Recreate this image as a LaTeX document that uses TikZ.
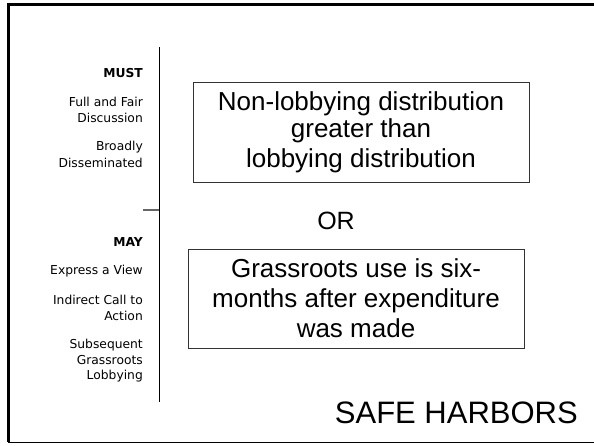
\documentclass[tikz,border=0pt]{standalone}
\usepackage{fontspec}
\setmainfont{Liberation Sans}
\newfontfamily\sidefont{DejaVu Sans}
\begin{document}
\begin{tikzpicture}[x=1pt,y=-1pt,
  side/.style={anchor=base east,inner sep=0pt,font=\sidefont\fontsize{12.3}{14}\selectfont},
  sidehead/.style={side,font=\sidefont\bfseries\fontsize{12.3}{14}\selectfont},
  harbor/.style={draw=black!80,line width=0.9pt,align=center,inner sep=0pt,
    minimum width=336pt,font=\fontsize{26}{30}\selectfont},
  bigtext/.style={inner sep=0pt,font=\fontsize{25}{30}\selectfont}]
\useasboundingbox (0,0) rectangle (594,445);
% frame
\draw[line width=3pt] (8,4) -- (594,4);
\draw[line width=3pt] (8,2.5) -- (8,442);
\draw[line width=1pt] (8,442.5) -- (594,442.5);
% divider
\coordinate (vtop) at (159,47);
\coordinate (vbot) at (159,402);
\coordinate (tickl) at (143,210);
\coordinate (tickr) at (159,210);
\draw[line width=1pt] (vtop) -- (vbot);
\draw[line width=1.3pt,black!60] (tickl) -- (tickr);
% left texts
\node[sidehead] (must) at (143,77) {MUST};
\node[side] (full1) at (143,106) {Full and Fair};
\node[side] (full2) at (143,122) {Discussion};
\node[side] (broad1) at (143,150) {Broadly};
\node[side] (broad2) at (143,167) {Disseminated};
\node[sidehead] (may) at (143,246) {MAY};
\node[side] (expr) at (143,274) {Express a View};
\node[side] (ind1) at (143,304) {Indirect Call to};
\node[side] (ind2) at (143,320) {Action};
\node[side] (sub1) at (143,348) {Subsequent};
\node[side] (sub2) at (143,364) {Grassroots};
\node[side] (sub3) at (143,379) {Lobbying};
% boxes
\node[harbor,minimum height=100pt] (box1) at (361,132)
  {\raisebox{-3pt}{Non-lobbying distribution}\\greater than\\lobbying distribution};
\node[bigtext,anchor=base] (or) at (336,229) {OR};
\node[harbor,minimum height=99pt] (box2) at (356,298.5)
  {Grassroots use is six-\\months after expenditure\\was made};
\node[inner sep=0pt,anchor=base east,font=\fontsize{31}{34}\selectfont] (title) at (578,423) {SAFE HARBORS};
\end{tikzpicture}
\end{document}
